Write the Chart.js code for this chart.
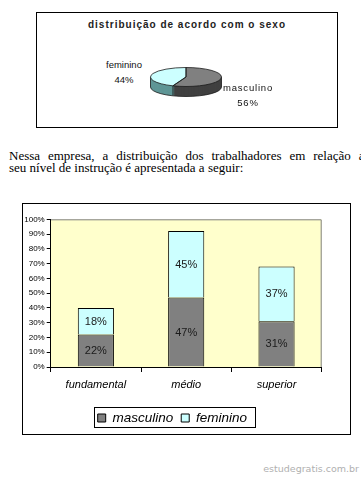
<!DOCTYPE html>
<html>
<head>
<meta charset="utf-8">
<script src="https://cdn.jsdelivr.net/npm/chart.js@4/dist/chart.umd.min.js"></script>
<style>
  body { margin:0; width:361px; height:477px; position:relative; overflow:hidden; background:#fff; font-family:'Liberation Sans', Arial, sans-serif; }
  .abs { position:absolute; }
  #pieBox { left:36px; top:12px; width:302px; height:116px; box-sizing:border-box; border:1px solid #000; }
  #pieTitle { left:36px; top:19px; width:302px; text-align:center; font-weight:bold; font-size:10px; line-height:12px; letter-spacing:1px; color:#222; }
  .pieLbl { font-size:9.5px; line-height:15px; text-align:center; color:#111; white-space:nowrap; }
  #lblFem { left:103px; top:57px; width:42px; }
  #lblMasc { left:220px; top:80px; width:56px; letter-spacing:0.8px; }
  #para { left:9px; top:150px; width:362px; font-family:'Liberation Serif', 'Times New Roman', serif; font-size:13px; line-height:12px; color:#000; }
  #para .l1 { text-align:justify; text-align-last:justify; white-space:nowrap; display:block; }
  #barBox { left:22px; top:203px; width:329px; height:232px; box-sizing:border-box; border:1px solid #000; }
  #mark { right:2px; top:463px; font-family:'DejaVu Sans', sans-serif; font-size:9.5px; line-height:11px; color:#b0b0b0; }
</style>
</head>
<body>
<div id="pieBox" class="abs"></div>
<div id="pieTitle" class="abs">distribuição de acordo com o sexo</div>
<canvas id="pieChart" class="abs" width="80" height="80" style="left:146px;top:37px;width:80px;height:80px"></canvas>
<div id="lblFem" class="abs pieLbl"></div>
<div id="lblMasc" class="abs pieLbl"></div>

<div id="para" class="abs"><span class="l1">Nessa empresa, a distribuição dos trabalhadores em relação ao</span>seu nível de instrução é apresentada a seguir:</div>

<canvas id="barChart" class="abs" width="327" height="231" style="left:23px;top:204px;width:327px;height:231px"></canvas>
<div id="barBox" class="abs"></div>
<div id="mark" class="abs">estudegratis.com.br</div>

<script>
'use strict';

// pie: distribuição por sexo
const pieLabels = ['masculino', 'feminino'];
const pieValues = [56, 44];

// barras: nível de instrução
const levels    = ['fundamental', 'médio', 'superior'];
const masculino = [22, 47, 31];
const feminino  = [18, 45, 37];
const yTicks    = [0, 10, 20, 30, 40, 50, 60, 70, 80, 90, 100];

const COL_MASC = '#808080', COL_FEM = '#CCFFFF';
const pieSides = ['#404040', '#5f9696'];
const PIE_DEPTH = 10, PIE_SQUASH = 9.5 / 35.5;

Chart.defaults.font.family = "'Liberation Sans', Arial, sans-serif";
Chart.defaults.color = '#000';

document.getElementById('lblMasc').innerHTML = `${pieLabels[0]}<br>${pieValues[0]}%`;
document.getElementById('lblFem').innerHTML  = `${pieLabels[1]}<br>${pieValues[1]}%`;

// fake 3d: draw the side rim, then squash the real pie
const pie3d = {
  id: 'pie3d',
  beforeDatasetsDraw(chart) {
    const ctx = chart.ctx;
    const arcs = chart.getDatasetMeta(0).data;
    const {x, y, outerRadius: r} = arcs[0].getProps(['x', 'y', 'outerRadius']);
    ctx.save();
    for (let d = PIE_DEPTH; d >= 1; d--) {
      ctx.save();
      ctx.translate(x, y + d); ctx.scale(1, PIE_SQUASH);
      arcs.forEach((arc, i) => {
        const p = arc.getProps(['startAngle', 'endAngle']);
        ctx.beginPath(); ctx.moveTo(0, 0);
        ctx.arc(0, 0, r, p.startAngle, p.endAngle);
        ctx.closePath();
        ctx.fillStyle = pieSides[i]; ctx.fill();
      });
      ctx.restore();
    }
    // rim outline
    ctx.save();
    ctx.translate(x, y + PIE_DEPTH); ctx.scale(1, PIE_SQUASH);
    ctx.beginPath(); ctx.arc(0, 0, r, 0, Math.PI);
    ctx.restore();
    ctx.moveTo(x - r, y); ctx.lineTo(x - r, y + PIE_DEPTH);
    ctx.moveTo(x + r, y); ctx.lineTo(x + r, y + PIE_DEPTH);
    arcs.forEach(arc => {
      const a = arc.getProps(['startAngle']).startAngle;
      if (Math.sin(a) > 0) {
        const ex = x + r * Math.cos(a), ey = y + r * Math.sin(a) * PIE_SQUASH;
        ctx.moveTo(ex, ey); ctx.lineTo(ex, ey + PIE_DEPTH);
      }
    });
    ctx.strokeStyle = '#1a1a1a'; ctx.lineWidth = 0.8; ctx.stroke();

    ctx.translate(x, y); ctx.scale(1, PIE_SQUASH); ctx.translate(-x, -y);
  },
  afterDatasetsDraw(chart) {
    const ctx = chart.ctx;
    ctx.restore();
    const arcs = chart.getDatasetMeta(0).data;
    arcs.forEach(arc => {
      const p = arc.getProps(['x', 'y', 'startAngle', 'endAngle', 'outerRadius']);
      ctx.save();
      ctx.translate(p.x, p.y); ctx.scale(1, PIE_SQUASH);
      ctx.beginPath(); ctx.moveTo(0, 0);
      ctx.arc(0, 0, p.outerRadius, p.startAngle, p.endAngle);
      ctx.closePath();
      ctx.restore();
      ctx.strokeStyle = '#1a1a1a'; ctx.lineWidth = 0.8; ctx.stroke();
    });
  }
};

new Chart(document.getElementById('pieChart'), {
  type: 'pie',
  data: {
    labels: pieLabels,
    datasets: [{ data: pieValues, backgroundColor: [COL_MASC, COL_FEM], borderWidth: 0 }]
  },
  options: {
    responsive: false, animation: false, events: [],
    layout: { padding: 4.5 },
    plugins: { legend: { display: false }, tooltip: { enabled: false } }
  },
  plugins: [pie3d]
});

// yellow plot area with grey top/right edge
const plotBg = {
  id: 'plotBg',
  beforeDraw(chart) {
    const {ctx, chartArea: a} = chart;
    ctx.save();
    ctx.fillStyle = '#FFFFCC';
    ctx.fillRect(a.left, a.top, a.right - a.left, a.bottom - a.top);
    ctx.beginPath();
    ctx.moveTo(a.left, a.top + 0.5); ctx.lineTo(a.right - 0.5, a.top + 0.5); ctx.lineTo(a.right - 0.5, a.bottom);
    ctx.strokeStyle = '#808080'; ctx.lineWidth = 1; ctx.stroke();
    ctx.restore();
  }
};

const barLabels = {
  id: 'barLabels',
  afterDatasetsDraw(chart) {
    const ctx = chart.ctx;
    ctx.save();
    ctx.font = "11px 'Liberation Sans', Arial, sans-serif";
    ctx.fillStyle = '#1a1a1a'; ctx.textAlign = 'center'; ctx.textBaseline = 'middle';
    chart.data.datasets.forEach((ds, i) => {
      chart.getDatasetMeta(i).data.forEach((bar, j) => {
        const {x, y, base} = bar.getProps(['x', 'y', 'base']);
        ctx.fillText(ds.data[j] + '%', x, (y + base) / 2 + 0.5);
      });
    });
    ctx.restore();
  }
};

const legendBox = {
  id: 'legendBox',
  afterDraw(chart) {
    const boxes = chart.legend.legendHitBoxes;
    if (!boxes || !boxes.length) return;
    const f = boxes[0], l = boxes[boxes.length - 1];
    const x0 = Math.round(f.left - 4) + 0.5, x1 = Math.round(l.left + l.width + 8) + 0.5;
    const y0 = Math.round(f.top - 4) + 0.5, y1 = Math.round(f.top + f.height + 2) + 0.5;
    const ctx = chart.ctx;
    ctx.save();
    ctx.strokeStyle = '#000'; ctx.lineWidth = 1;
    ctx.strokeRect(x0, y0, x1 - x0, y1 - y0);
    ctx.restore();
  }
};

new Chart(document.getElementById('barChart'), {
  type: 'bar',
  data: {
    labels: levels,
    datasets: [
      { label: 'masculino', data: masculino, backgroundColor: COL_MASC, borderColor: '#000', borderWidth: 1 },
      { label: 'feminino',  data: feminino,  backgroundColor: COL_FEM,  borderColor: '#000', borderWidth: 1 },
    ]
  },
  options: {
    responsive: false, animation: false, events: [],
    layout: { padding: { left: 0, right: 28.3, top: 15.3, bottom: 0.25 } },
    datasets: { bar: { categoryPercentage: 1, barPercentage: 0.4 } },
    scales: {
      x: {
        stacked: true,
        afterFit: s => { s.height = 36.25; },
        grid: { drawOnChartArea: false, drawTicks: true, tickLength: 5, color: '#000', offset: true },
        border: { color: '#000' },
        ticks: { color: '#000', padding: 6, font: { size: 11, style: 'italic' } }
      },
      y: {
        stacked: true, min: 0, max: 100,
        afterFit: s => { s.width = 27.7; },
        afterBuildTicks: s => { s.ticks = yTicks.map(v => ({ value: v })); },
        grid: { drawOnChartArea: false, drawTicks: true, tickLength: 4, color: '#000' },
        border: { color: '#000' },
        ticks: { color: '#000', padding: 2, font: { size: 8 }, callback: v => v + '%' }
      }
    },
    plugins: {
      tooltip: { enabled: false },
      legend: {
        position: 'bottom',
        labels: { color: '#000', boxWidth: 8, boxHeight: 8, padding: 8, font: { size: 13.5, style: 'italic' } }
      }
    }
  },
  plugins: [plotBg, barLabels, legendBox]
});
</script>
</body>
</html>
